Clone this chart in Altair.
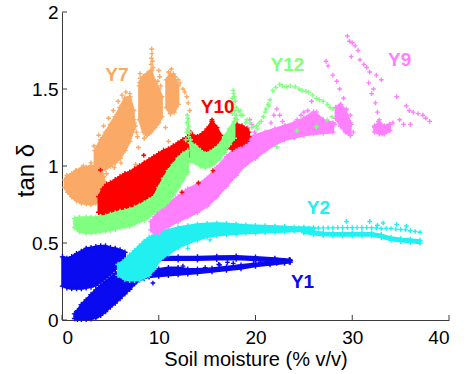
import altair as alt
import pandas as pd

# ---------------- axis ticks ----------------
X_TICKS = [0, 10, 20, 30, 40]
Y_TICKS = [0, 0.5, 1, 1.5, 2]

# ---------------- series labels ----------------
LABEL_TEXT = ["Y7", "Y10", "Y12", "Y9", "Y2", "Y1"]
LABEL_X = [5.68, 16.1, 23.3, 34.9, 26.5, 24.86]
LABEL_Y = [1.59, 1.38, 1.656, 1.69, 0.727, 0.244]
LABEL_COLOR = ["#FAAA66", "#FF0000", "#80FF80", "#FF80FF", "#22F0F0", "#0A0AF0"]

# ---------------- Y1 (blue) ----------------
Y1_A_X = [0.05, 0.5, 1.0, 1.5, 2.0, 2.5, 3.0, 3.5, 4.0, 4.5, 5.0, 5.5, 6.0, 6.5]
Y1_A_LO = [0.22, 0.21, 0.205, 0.205, 0.205, 0.21, 0.215, 0.225, 0.25, 0.275, 0.30, 0.33, 0.355, 0.38]
Y1_A_HI = [0.41, 0.40, 0.41, 0.43, 0.445, 0.465, 0.47, 0.475, 0.48, 0.48, 0.47, 0.465, 0.455, 0.44]
Y1_B_X = [1.3, 1.6, 2.0, 2.5, 3.0, 3.5, 4.0, 4.5, 5.0, 5.5, 6.0, 6.5, 7.0, 7.5, 8.0, 8.5]
Y1_B_LO = [0.01, 0.005, 0.005, 0.005, 0.008, 0.015, 0.03, 0.055, 0.085, 0.11, 0.14, 0.17, 0.20, 0.235, 0.26, 0.27]
Y1_B_HI = [0.04, 0.06, 0.10, 0.13, 0.165, 0.195, 0.225, 0.25, 0.275, 0.30, 0.325, 0.355, 0.38, 0.39, 0.38, 0.33]
Y1_C_X = [8.5, 10.0, 12.0, 14.0, 16.0, 18.0, 20.0, 22.0, 23.5]
Y1_C_LO = [0.386, 0.391, 0.391, 0.391, 0.394, 0.396, 0.389, 0.381, 0.376]
Y1_C_HI = [0.404, 0.409, 0.409, 0.409, 0.412, 0.414, 0.407, 0.399, 0.392]
Y1_D_X = [8.0, 9.0, 10.0, 11.0, 12.0, 13.0, 14.0, 15.5, 17.0, 18.5, 20.0, 21.5, 23.0, 23.6]
Y1_D_LO = [0.265, 0.28, 0.285, 0.29, 0.295, 0.30, 0.305, 0.315, 0.325, 0.335, 0.35, 0.36, 0.37, 0.376]
Y1_D_HI = [0.30, 0.31, 0.33, 0.34, 0.34, 0.33, 0.33, 0.335, 0.345, 0.355, 0.365, 0.375, 0.385, 0.388]
Y1_PX = [9.4, 16.3, 17.7, 19.8, 21.2, 22.2, 16.2, 17.1, 12.5, 14.8, 20.5, 23.0]
Y1_PY = [0.24, 0.357, 0.368, 0.368, 0.379, 0.368, 0.361, 0.374, 0.35, 0.34, 0.375, 0.38]

# ---------------- Y2 (cyan) ----------------
Y2_A_X = [5.8, 6.5, 7.0, 7.5, 8.0, 8.5, 9.0, 9.5, 10.0, 10.5, 11.0, 12.0, 13.0, 14.0, 15.0, 16.0,
          17.0, 18.0, 19.0, 20.0, 21.0, 22.0, 23.0, 24.0, 25.0, 26.0]
Y2_A_HI = [0.36, 0.39, 0.42, 0.45, 0.48, 0.51, 0.535, 0.55, 0.565, 0.575, 0.585, 0.60, 0.61, 0.62, 0.625, 0.627,
           0.625, 0.62, 0.615, 0.612, 0.61, 0.607, 0.605, 0.60, 0.60, 0.598]
Y2_A_LO = [0.29, 0.265, 0.258, 0.258, 0.26, 0.275, 0.29, 0.33, 0.38, 0.41, 0.43, 0.47, 0.50, 0.52, 0.54, 0.55,
           0.555, 0.56, 0.565, 0.567, 0.57, 0.572, 0.575, 0.578, 0.578, 0.575]
Y2_B_X = [25, 26, 27, 28, 29, 30, 31, 32, 33, 34, 35, 36, 37]
Y2_B_LO = [0.567, 0.557, 0.55, 0.548, 0.548, 0.549, 0.549, 0.548, 0.537, 0.52, 0.512, 0.507, 0.50]
Y2_B_HI = [0.583, 0.573, 0.566, 0.564, 0.564, 0.565, 0.565, 0.564, 0.553, 0.536, 0.528, 0.523, 0.516]
Y2_PX = [24.5, 25, 25.5, 26, 26.5, 27, 27.5, 28, 28.5, 29, 29.5, 30, 30.5, 31, 31.5, 32, 32.5, 33, 33.5,
         34, 34.5, 35, 35.5, 36, 36.5, 37,
         29.4, 31.8, 33.2, 34.6, 32.6, 35.6, 15.3, 13.0]
Y2_PY = [0.598, 0.598, 0.597, 0.597, 0.597, 0.598, 0.598, 0.599, 0.60, 0.60, 0.60, 0.60, 0.60, 0.60, 0.60,
         0.599, 0.597, 0.594, 0.595, 0.594, 0.59, 0.588, 0.585, 0.58, 0.575, 0.57,
         0.64, 0.64, 0.63, 0.62, 0.615, 0.61, 0.52, 0.465]

# ---------------- Y7 (orange) ----------------
Y7_A_X = [0.3, 0.6, 1.0, 1.5, 2.0, 2.5, 3.0, 3.5, 4.0, 4.3]
Y7_A_LO = [0.86, 0.83, 0.80, 0.775, 0.76, 0.755, 0.75, 0.76, 0.78, 0.84]
Y7_A_HI = [0.91, 0.93, 0.95, 0.97, 0.985, 0.99, 1.0, 1.0, 0.99, 0.93]
Y7_B_X = [3.4, 4.0, 4.5, 5.0, 5.5, 6.0, 6.5, 7.0, 7.4]
Y7_B_LO = [0.98, 0.97, 0.98, 1.0, 1.02, 1.05, 1.10, 1.16, 1.24]
Y7_B_HI = [1.10, 1.17, 1.22, 1.27, 1.32, 1.38, 1.44, 1.45, 1.36]
Y7_C_X = [8.0, 8.4, 8.8, 9.2, 9.6, 10.0, 10.3]
Y7_C_LO = [1.30, 1.22, 1.20, 1.22, 1.25, 1.28, 1.32]
Y7_C_HI = [1.52, 1.58, 1.60, 1.62, 1.55, 1.50, 1.45]
Y7_D_X = [10.8, 11.2, 11.6, 12.0]
Y7_D_LO = [1.38, 1.34, 1.35, 1.40]
Y7_D_HI = [1.56, 1.60, 1.58, 1.52]
Y7_PX = [9.27, 9.3, 9.25, 9.35, 9.2, 9.4, 9.3, 8.06, 8.1, 8.15, 8.0, 10.1, 10.0, 9.9, 10.2,
         11.0, 11.7, 12.2, 12.7, 13.05, 13.2, 12.9, 12.5, 11.3, 11.5, 12.0,
         7.4, 7.6, 7.8, 7.7, 7.5, 1.4, 7.6, 11.0, 7.9, 8.5, 10.7,
         3.3, 3.8, 4.3, 4.8, 5.3, 5.8, 6.2, 6.6, 7.0, 4.6, 5.4, 6.1, 3.0, 0.5, 2.2, 4.4]
Y7_PY = [1.76, 1.73, 1.70, 1.68, 1.66, 1.64, 1.62, 1.60, 1.57, 1.55, 1.54, 1.58, 1.62, 1.55, 1.52,
         1.61, 1.58, 1.54, 1.48, 1.41, 1.36, 1.45, 1.50, 1.63, 1.60, 1.56,
         1.30, 1.26, 1.19, 1.22, 1.28, 0.97, 1.01, 1.16, 1.12, 1.18, 1.25,
         1.13, 1.20, 1.26, 1.31, 1.36, 1.42, 1.46, 1.48, 1.47, 0.95, 0.99, 1.02, 1.02, 0.94, 1.0, 0.9]

# ---------------- Y9 (pink) ----------------
Y9_A_X = [9.2, 9.6, 10, 11, 12, 13, 14, 15, 16, 17, 18, 19, 20, 21, 22, 23, 24, 25, 26, 27, 28]
Y9_A_LO = [0.585, 0.565, 0.57, 0.61, 0.64, 0.67, 0.70, 0.74, 0.80, 0.87, 0.94, 1.01, 1.05, 1.10, 1.14,
           1.17, 1.185, 1.20, 1.21, 1.215, 1.22]
Y9_A_HI = [0.64, 0.67, 0.71, 0.76, 0.80, 0.85, 0.88, 0.92, 0.99, 1.06, 1.12, 1.18, 1.20, 1.22, 1.24,
           1.26, 1.28, 1.31, 1.35, 1.30, 1.28]
Y9_B_X = [28.3, 28.8, 29.3, 29.8]
Y9_B_LO = [1.31, 1.26, 1.22, 1.20]
Y9_B_HI = [1.38, 1.40, 1.36, 1.28]
Y9_C_X = [32.3, 32.8, 33.3, 33.9]
Y9_C_LO = [1.22, 1.21, 1.21, 1.23]
Y9_C_HI = [1.26, 1.28, 1.26, 1.27]
Y9_PX = [29.5, 30.0, 30.6, 29.9, 30.8, 31.5, 31.8, 32.5, 33.0, 31.7, 32.0, 32.4, 32.6, 32.7, 32.9, 33.9,
         34.6, 35.6, 36.3, 37.3, 38.0, 35.3, 36.0,
         27.3, 27.5, 28.0, 28.4, 28.7, 29.1, 29.4, 29.8, 29.9, 30.1, 25.8, 26.3, 27.0, 28.2,
         31.2, 32.3, 33.6, 34.2, 34.9, 35.9, 36.8, 37.6, 30.3, 29.7, 32.2, 32.8, 33.1,
         16.2, 16.6, 17.0, 17.4, 17.8, 18.2, 18.5,
         18.8, 19.0, 19.2, 19.4, 19.6, 19.9, 20.2, 20.5, 20.8, 21.2, 21.6, 21.9, 22.2, 22.5, 22.8,
         23.1, 23.5, 23.9, 24.3, 24.7, 25.0, 25.4]
Y9_PY = [1.844, 1.80, 1.75, 1.71, 1.69, 1.64, 1.61, 1.59, 1.56, 1.54, 1.47, 1.41, 1.35, 1.29, 1.23, 1.27,
         1.45, 1.39, 1.35, 1.33, 1.29, 1.27, 1.27,
         1.68, 1.65, 1.59, 1.55, 1.50, 1.44, 1.37, 1.33, 1.27, 1.22, 1.42, 1.35, 1.29, 1.27,
         1.66, 1.25, 1.26, 1.28, 1.30, 1.36, 1.34, 1.31, 1.78, 1.81, 1.50, 1.30, 1.21,
         1.05, 1.09, 1.13, 1.17, 1.20, 1.19, 1.16,
         1.15, 1.20, 1.25, 1.30, 1.27, 1.22, 1.18, 1.16, 1.18, 1.22, 1.28, 1.33, 1.37, 1.33, 1.29,
         1.26, 1.25, 1.27, 1.30, 1.33, 1.35, 1.36]

# ---------------- Y10 (red) ----------------
Y10_A_X = [3.8, 4.2, 4.6, 5.0, 5.5, 6.0, 6.5, 7.0, 7.5, 8.0, 8.5, 9.0, 9.5, 10.0, 10.5, 11.0, 11.5,
           12.0, 12.5, 13.0]
Y10_A_LO = [0.70, 0.68, 0.68, 0.69, 0.70, 0.70, 0.71, 0.72, 0.74, 0.76, 0.78, 0.79, 0.81, 0.84, 0.89,
            0.95, 0.99, 1.02, 1.04, 1.06]
Y10_A_HI = [0.80, 0.85, 0.88, 0.89, 0.91, 0.93, 0.95, 0.96, 0.98, 1.0, 1.02, 1.04, 1.06, 1.08, 1.10,
            1.11, 1.13, 1.15, 1.17, 1.19]
Y10_B_X = [13.0, 13.5, 14.0, 14.5, 15.0, 15.5, 16.0, 16.4]
Y10_B_LO = [1.06, 1.07, 1.08, 1.08, 1.09, 1.10, 1.12, 1.15]
Y10_B_HI = [1.19, 1.20, 1.19, 1.21, 1.24, 1.29, 1.25, 1.20]
Y10_C_X = [17.1, 17.6, 18.1, 18.6, 19.1, 19.3]
Y10_C_LO = [1.12, 1.11, 1.13, 1.14, 1.16, 1.19]
Y10_C_HI = [1.20, 1.24, 1.27, 1.26, 1.24, 1.22]
Y10_PX = [14.1, 15.6, 12.4, 9.8, 3.97, 8.45, 13.3, 15.5]
Y10_PY = [0.89, 0.97, 0.83, 0.79, 0.974, 1.07, 1.22, 1.30]

# ---------------- Y12 (green) ----------------
Y12_A_X = [1.3, 1.8, 2.5, 3.0, 3.5, 4.0, 4.5, 5.0, 5.5, 6.0, 6.5, 7.0, 7.5, 8.0, 8.5, 9.0, 9.5, 10.0,
           10.5, 11.0, 11.5, 12.0, 12.5, 13.0]
Y12_A_LO = [0.60, 0.575, 0.565, 0.565, 0.57, 0.575, 0.58, 0.585, 0.59, 0.60, 0.605, 0.61, 0.625, 0.64,
            0.65, 0.67, 0.70, 0.72, 0.74, 0.77, 0.81, 0.86, 0.91, 0.96]
Y12_A_HI = [0.66, 0.665, 0.665, 0.665, 0.665, 0.67, 0.675, 0.685, 0.695, 0.705, 0.71, 0.72, 0.73, 0.745,
            0.76, 0.78, 0.80, 0.86, 0.92, 0.97, 1.01, 1.05, 1.08, 1.10]
Y12_B_X = [13.3, 13.8, 14.3, 14.8, 15.3, 15.8, 16.3, 16.8, 17.3, 17.8]
Y12_B_LO = [1.03, 1.02, 1.0, 0.99, 1.0, 1.02, 1.05, 1.09, 1.14, 1.18]
Y12_B_HI = [1.15, 1.13, 1.10, 1.08, 1.09, 1.11, 1.14, 1.19, 1.24, 1.29]
Y12_PX = [12.95, 13.0, 13.05, 12.9, 13.1, 13.0, 13.2, 12.9, 13.1, 13.3, 13.2, 12.8, 13.4,
          17.7, 17.75, 17.8, 17.6, 17.9, 17.7, 18.0, 17.8, 18.2, 18.0, 17.6, 18.1, 17.9,
          18.4, 18.7, 19.1, 19.4, 19.8, 20.1, 20.4, 20.8, 21.1, 21.3, 21.5, 21.8, 22.1, 22.5, 22.8,
          23.2, 23.6, 24.1, 24.5, 24.8, 25.2, 25.5, 25.9, 26.3, 26.6, 27.0, 27.4, 27.7, 28.0, 27.9,
          27.4, 26.3, 24.3, 22.2, 18.5, 19.0, 19.6, 20.2, 20.6, 21.0, 21.4]
Y12_PY = [1.33, 1.31, 1.29, 1.28, 1.26, 1.24, 1.22, 1.22, 1.19, 1.17, 1.15, 1.17, 1.13,
          1.49, 1.47, 1.45, 1.44, 1.42, 1.40, 1.38, 1.36, 1.36, 1.33, 1.34, 1.30, 1.31,
          1.36, 1.33, 1.30, 1.28, 1.26, 1.26, 1.28, 1.32, 1.37, 1.40, 1.43, 1.49, 1.51, 1.53, 1.52,
          1.515, 1.52, 1.515, 1.50, 1.49, 1.485, 1.48, 1.46, 1.44, 1.43, 1.42, 1.40, 1.38, 1.37, 1.32,
          1.30, 1.255, 1.23, 1.125, 1.33, 1.28, 1.25, 1.24, 1.29, 1.35, 1.39]

SERIES = [
    ("#0A0AF0", [(Y1_A_X, Y1_A_LO, Y1_A_HI), (Y1_B_X, Y1_B_LO, Y1_B_HI),
                 (Y1_C_X, Y1_C_LO, Y1_C_HI), (Y1_D_X, Y1_D_LO, Y1_D_HI)], (Y1_PX, Y1_PY)),
    ("#22F0F0", [(Y2_A_X, Y2_A_LO, Y2_A_HI), (Y2_B_X, Y2_B_LO, Y2_B_HI)], (Y2_PX, Y2_PY)),
    ("#FAAA66", [(Y7_A_X, Y7_A_LO, Y7_A_HI), (Y7_B_X, Y7_B_LO, Y7_B_HI),
                 (Y7_C_X, Y7_C_LO, Y7_C_HI), (Y7_D_X, Y7_D_LO, Y7_D_HI)], (Y7_PX, Y7_PY)),
    ("#FF80FF", [(Y9_A_X, Y9_A_LO, Y9_A_HI), (Y9_B_X, Y9_B_LO, Y9_B_HI),
                 (Y9_C_X, Y9_C_LO, Y9_C_HI)], (Y9_PX, Y9_PY)),
    ("#FF0000", [(Y10_A_X, Y10_A_LO, Y10_A_HI), (Y10_B_X, Y10_B_LO, Y10_B_HI),
                 (Y10_C_X, Y10_C_LO, Y10_C_HI)], (Y10_PX, Y10_PY)),
    ("#80FF80", [(Y12_A_X, Y12_A_LO, Y12_A_HI), (Y12_B_X, Y12_B_LO, Y12_B_HI)], (Y12_PX, Y12_PY)),
]

FONT = "Liberation Sans"
W, H = 387, 308
xs = alt.Scale(domain=[0, 40], nice=False, zero=False)
ys = alt.Scale(domain=[0, 2], nice=False, zero=False)
PLUS = "M-1,0L1,0M0,-1L0,1"

X_AXIS = alt.Axis(values=X_TICKS, title="Soil moisture (% v/v)", grid=False, ticks=False, tickSize=0,
                  domainColor="#3a3a3a", labelFont=FONT, labelFontSize=19, labelColor="black",
                  labelPadding=8, titleFont=FONT, titleFontSize=20, titleFontWeight="normal",
                  titleColor="black", titleY=45, titleBaseline="alphabetic")
Y_AXIS = alt.Axis(values=Y_TICKS, title="tan δ", format="~g", grid=False, ticks=False, tickSize=0,
                  domainColor="#3a3a3a", labelFont=FONT, labelFontSize=19, labelColor="black",
                  labelPadding=4, titleFont=FONT, titleFontSize=24, titleFontWeight="normal",
                  titleColor="black", titleX=-29, titleY=158, titleBaseline="alphabetic")


def ex(field):
    return alt.X(field, scale=xs, axis=X_AXIS)


def ey(field):
    return alt.Y(field, scale=ys, axis=Y_AXIS)


def crosses(df, color, ycol, size=22):
    return alt.Chart(df).mark_point(shape=PLUS, filled=False, color=color, strokeWidth=1.4,
                                    size=size, opacity=1).encode(x=ex("x:Q"), y=ey(ycol))


layers = []
for color, bands, (px, py) in SERIES:
    for bx, blo, bhi in bands:
        df = pd.DataFrame({"x": bx, "lo": blo, "hi": bhi})
        layers.append(
            alt.Chart(df).mark_area(color=color, stroke=color, strokeWidth=2.5, strokeJoin="round",
                                    opacity=1).encode(x=ex("x:Q"), y=ey("lo:Q"), y2="hi:Q")
        )
        # ragged edges made of the same plus markers
        layers.append(crosses(df, color, "lo:Q", 30))
        layers.append(crosses(df, color, "hi:Q", 30))
    dfp = pd.DataFrame({"x": px, "y": py})
    layers.append(crosses(dfp, color, "y:Q"))

# inward tick marks
xt = alt.Chart(pd.DataFrame({"v": X_TICKS})).mark_rule(color="#3a3a3a", strokeWidth=1).encode(
    x=ex("v:Q"), y=alt.value(H), y2=alt.value(H - 5))
yt = alt.Chart(pd.DataFrame({"v": Y_TICKS})).mark_rule(color="#3a3a3a", strokeWidth=1).encode(
    y=ey("v:Q"), x=alt.value(0), x2=alt.value(5))

labels = alt.Chart(pd.DataFrame({"t": LABEL_TEXT, "x": LABEL_X, "y": LABEL_Y, "c": LABEL_COLOR})).mark_text(
    font=FONT, fontSize=19, fontWeight="bold", align="center", baseline="middle").encode(
    x=ex("x:Q"), y=ey("y:Q"), text="t:N", color=alt.Color("c:N", scale=None))

chart = alt.layer(*layers, xt, yt, labels).properties(
    width=W, height=H,
    padding={"left": 62, "top": 12, "right": 17, "bottom": 54},
    autosize=alt.AutoSizeParams(type="none"),
    background="white",
).configure_view(stroke=None)

chart.save("out.html", embed_options={"renderer": "svg", "actions": False})
